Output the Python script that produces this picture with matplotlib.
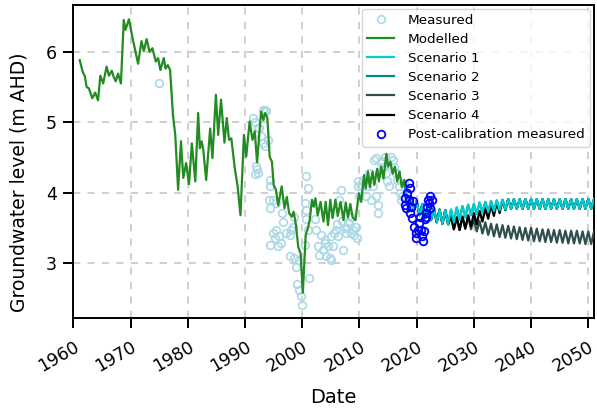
import numpy as np
import matplotlib
matplotlib.use("Agg")
import matplotlib.pyplot as plt

# ---- Modelled groundwater level (decimal year, m AHD) ----
modelled_year = [
    1961.1, 1961.6, 1962.0, 1962.3, 1962.7, 1963.3, 1963.8, 1964.3, 1964.7, 1965.2,
    1965.8, 1966.2, 1966.7, 1967.0, 1967.4, 1967.8, 1968.3, 1968.8, 1969.1, 1969.7,
    1970.4, 1971.3, 1971.9, 1972.3, 1972.8, 1973.3, 1973.8, 1974.4, 1974.8, 1975.2,
    1975.8, 1976.1, 1976.5, 1976.9, 1977.4, 1977.8, 1978.3, 1978.8, 1979.2, 1979.7,
    1980.2, 1980.7, 1981.3, 1981.8, 1982.1, 1982.4, 1982.7, 1983.2, 1983.9, 1984.3,
    1984.9, 1985.3, 1985.8, 1986.4, 1986.8, 1987.2, 1987.6, 1988.2, 1988.7, 1989.2,
    1989.8, 1990.2, 1990.8, 1991.3, 1991.7, 1992.1, 1992.8, 1993.2, 1993.5, 1993.9,
    1994.3, 1994.7, 1995.0, 1995.4, 1995.8, 1996.4, 1996.9, 1997.3, 1997.7, 1998.2,
    1998.5, 1998.9, 1999.3, 1999.7, 2000.1, 2000.6, 2001.0, 2001.3, 2001.7, 2002.0,
    2002.3, 2002.7, 2003.2, 2003.7, 2004.1, 2004.5, 2004.9, 2005.3, 2005.8, 2006.2,
    2006.7, 2007.2, 2007.6, 2008.0, 2008.4, 2008.8, 2009.3, 2009.9, 2010.3, 2010.8,
    2011.1, 2011.5, 2011.8, 2012.3, 2012.6, 2013.1, 2013.4, 2013.8, 2014.2, 2014.7,
    2015.0, 2015.4, 2015.8, 2016.2, 2016.6, 2017.0, 2017.4, 2017.8, 2018.0,
]
modelled_level = [
    5.88, 5.72, 5.65, 5.50, 5.48, 5.34, 5.42, 5.31, 5.66, 5.55,
    5.79, 5.66, 5.73, 5.65, 5.58, 5.69, 5.55, 6.45, 6.31, 6.46,
    6.17, 5.83, 6.15, 6.01, 6.18, 6.00, 6.05, 5.86, 5.91, 5.74,
    5.91, 5.76, 5.81, 5.74, 5.10, 4.82, 4.04, 4.73, 4.21, 4.42,
    4.12, 4.70, 4.16, 5.13, 4.63, 4.73, 4.61, 4.18, 4.91, 4.49,
    5.39, 4.82, 5.32, 4.71, 5.06, 4.75, 4.77, 4.35, 4.09, 3.68,
    4.82, 4.51, 5.01, 4.75, 4.87, 4.43, 5.15, 5.03, 5.13, 5.06,
    4.51, 4.44, 4.11, 4.04, 3.82, 4.09, 3.78, 3.94, 3.71, 3.66,
    3.73, 3.54, 3.23, 3.14, 2.58, 3.40, 3.50, 3.61, 3.90, 3.80,
    3.92, 3.68, 3.87, 3.59, 3.87, 3.54, 3.90, 3.64, 3.90, 3.67,
    3.87, 3.61, 3.86, 3.65, 3.84, 3.65, 3.61, 3.99, 3.87, 4.25,
    4.06, 4.30, 4.08, 4.30, 4.11, 4.34, 4.16, 4.37, 4.20, 4.55,
    4.37, 4.44, 4.27, 4.37, 4.16, 4.30, 4.08, 4.18, 4.05,
]

# ---- Measured levels used for calibration ----
measured_year = [
    1974.9, 1991.4, 1991.7, 1992.3, 1992.5, 1992.8, 1993.1, 1993.4, 1993.7, 1993.1,
    1993.4, 1994.0, 1991.9, 1992.1, 1992.2, 1991.8, 1994.3, 1994.4, 1994.2, 1994.4,
    1994.9, 1995.4, 1996.5, 1996.7, 1994.9, 1995.2, 1995.4, 1996.0, 1994.3, 1995.7,
    1996.3, 1997.2, 1997.8, 1998.1, 1998.4, 1998.6, 1997.8, 1998.6, 1998.9, 1999.1,
    1999.4, 1999.8, 2000.0, 2001.2, 2000.7, 2001.0, 2000.4, 2000.6, 2000.7, 2001.0,
    2000.4, 1999.5, 2002.2, 2002.4, 2002.7, 2003.0, 2003.6, 2003.9, 2004.2, 2004.5,
    2004.8, 2005.1, 2005.4, 2005.6, 2005.9, 2006.2, 2006.5, 2006.8, 2007.1, 2007.4,
    2007.6, 2007.9, 2008.2, 2008.5, 2008.8, 2009.1, 2009.4, 2009.6, 2008.5, 2008.0,
    2009.7, 2009.8, 2010.0, 2010.3, 2011.2, 2011.4, 2012.0, 2012.3, 2012.9, 2013.2,
    2013.2, 2013.5, 2012.6, 2012.9, 2013.8, 2014.1, 2014.4, 2014.6, 2014.9, 2015.2,
    2015.5, 2015.8, 2016.1, 2016.4, 2016.6, 2016.9, 2017.2, 2017.5, 2018.1, 2017.8,
    2011.7, 2010.6, 2003.3, 2004.0, 2005.0, 2006.0, 2007.0, 2015.0, 2014.0, 2017.0,
]
measured_level = [
    5.55, 5.06, 5.01, 4.92, 4.92, 4.80, 5.18, 5.17, 5.16, 4.71,
    4.66, 4.75, 4.38, 4.33, 4.28, 4.26, 4.18, 4.09, 3.90, 3.78,
    3.90, 3.85, 3.71, 3.59, 3.43, 3.36, 3.47, 3.38, 3.26, 3.24,
    3.29, 3.43, 3.40, 3.47, 3.52, 3.66, 3.10, 3.07, 2.95, 2.70,
    2.62, 2.53, 2.41, 2.79, 4.23, 4.06, 3.85, 3.76, 3.62, 3.47,
    3.26, 3.05, 3.62, 3.47, 3.24, 3.12, 3.19, 3.28, 3.10, 3.24,
    3.07, 3.05, 3.24, 3.43, 3.47, 3.38, 3.90, 4.04, 3.19, 3.50,
    3.43, 3.50, 3.57, 3.43, 3.47, 3.40, 3.52, 3.36, 3.66, 3.59,
    4.09, 4.16, 3.95, 4.09, 3.95, 4.09, 3.90, 4.09, 3.95, 3.83,
    3.71, 4.28, 4.47, 4.49, 4.42, 4.37, 4.51, 4.28, 4.16, 4.09,
    4.51, 4.47, 4.37, 4.28, 4.18, 4.09, 3.90, 3.95, 3.99, 4.14,
    4.28, 4.18, 3.40, 3.33, 3.38, 3.55, 3.60, 4.40, 4.45, 4.00,
]

# ---- Measured levels after the calibration period ----
postcal_year = [
    2018.7, 2018.8, 2018.3, 2018.0, 2017.9, 2018.1, 2018.6, 2018.9, 2019.2, 2019.5,
    2019.8, 2019.9, 2020.3, 2020.4, 2020.6, 2020.8, 2020.9, 2021.1, 2021.3, 2021.4,
    2021.6, 2021.8, 2022.0, 2022.3, 2022.6, 2022.1, 2022.4, 2021.6, 2019.0, 2019.3,
]
postcal_level = [
    4.14, 4.07, 4.00, 3.93, 3.83, 3.78, 3.90, 3.71, 3.64, 3.52,
    3.43, 3.36, 3.47, 3.57, 3.66, 3.47, 3.38, 3.31, 3.45, 3.62,
    3.71, 3.80, 3.90, 3.95, 3.90, 3.85, 3.78, 3.66, 3.80, 3.88,
]

# ---- Scenario projections, half-yearly from 2018.0 to 2051.0 ----
scenario_year = np.arange(2018.0, 2051.01, 0.5)

scenario1 = [
    4.05, 3.80, 3.95, 3.74, 3.88, 3.68, 3.84, 3.64, 3.80, 3.61,
    3.78, 3.58, 3.76, 3.56, 3.75, 3.55, 3.76, 3.58, 3.79, 3.62,
    3.81, 3.65, 3.83, 3.68, 3.84, 3.70, 3.86, 3.72, 3.87, 3.73,
    3.88, 3.74, 3.89, 3.75, 3.90, 3.76, 3.91, 3.77, 3.91, 3.77,
    3.91, 3.77, 3.91, 3.77, 3.91, 3.77, 3.91, 3.77, 3.91, 3.77,
    3.91, 3.77, 3.91, 3.77, 3.91, 3.77, 3.91, 3.77, 3.91, 3.77,
    3.91, 3.77, 3.91, 3.77, 3.91, 3.77, 3.91,
]
scenario2 = [
    4.05, 3.80, 3.95, 3.74, 3.88, 3.68, 3.84, 3.64, 3.80, 3.61,
    3.78, 3.58, 3.76, 3.56, 3.75, 3.55, 3.76, 3.58, 3.79, 3.62,
    3.81, 3.65, 3.83, 3.68, 3.84, 3.70, 3.86, 3.72, 3.87, 3.73,
    3.88, 3.74, 3.89, 3.75, 3.90, 3.76, 3.91, 3.77, 3.91, 3.77,
    3.91, 3.77, 3.91, 3.77, 3.91, 3.77, 3.91, 3.77, 3.91, 3.77,
    3.91, 3.77, 3.91, 3.77, 3.91, 3.77, 3.91, 3.77, 3.91, 3.77,
    3.91, 3.77, 3.91, 3.77, 3.91, 3.77, 3.91,
]
scenario3 = [
    4.05, 3.80, 3.95, 3.74, 3.88, 3.68, 3.84, 3.64, 3.80, 3.61,
    3.78, 3.58, 3.76, 3.56, 3.75, 3.55, 3.66, 3.48, 3.65, 3.47,
    3.66, 3.49, 3.66, 3.48, 3.62, 3.45, 3.60, 3.42, 3.58, 3.40,
    3.56, 3.38, 3.55, 3.37, 3.54, 3.36, 3.53, 3.35, 3.52, 3.34,
    3.51, 3.33, 3.50, 3.32, 3.50, 3.31, 3.49, 3.31, 3.48, 3.30,
    3.48, 3.30, 3.47, 3.29, 3.47, 3.29, 3.46, 3.28, 3.46, 3.28,
    3.46, 3.28, 3.45, 3.27, 3.45, 3.27, 3.45,
]
scenario4 = [
    4.05, 3.80, 3.95, 3.74, 3.88, 3.68, 3.84, 3.64, 3.80, 3.61,
    3.78, 3.58, 3.76, 3.56, 3.75, 3.55, 3.66, 3.48, 3.65, 3.47,
    3.66, 3.49, 3.68, 3.52, 3.71, 3.55, 3.74, 3.59, 3.78, 3.63,
    3.82, 3.67, 3.86, 3.71, 3.89, 3.75, 3.91, 3.77, 3.91, 3.77,
    3.91, 3.77, 3.91, 3.77, 3.91, 3.77, 3.91, 3.77, 3.91, 3.77,
    3.91, 3.77, 3.91, 3.77, 3.91, 3.77, 3.91, 3.77, 3.91, 3.77,
    3.91, 3.77, 3.91, 3.77, 3.91, 3.77, 3.91,
]

year_ticks = [1960, 1970, 1980, 1990, 2000, 2010, 2020, 2030, 2040, 2050]
level_ticks = [3, 4, 5, 6]

fig = plt.figure(figsize=(5.97, 4.11), dpi=100)
ax = fig.add_axes([0.123, 0.226, 0.872, 0.763])

ax.grid(True, color="#cccccc", linestyle=(0, (4, 4)), linewidth=1.3, zorder=0)
ax.set_axisbelow(True)

h_meas, = ax.plot(measured_year, measured_level, linestyle="none", marker="o",
                  markersize=5.5, markerfacecolor="none", markeredgecolor="#add8e6",
                  markeredgewidth=1.2, label="Measured", zorder=2)
h_mod, = ax.plot(modelled_year, modelled_level, color="#228b22", linewidth=1.6,
                 label="Modelled", zorder=3)
h_s2, = ax.plot(scenario_year, scenario2, color="#008b8b", linewidth=1.6,
                label="Scenario 2", zorder=3)
h_s3, = ax.plot(scenario_year, scenario3, color="#2f4f4f", linewidth=1.6,
                label="Scenario 3", zorder=3.1)
h_s4, = ax.plot(scenario_year, scenario4, color="black", linewidth=1.6,
                label="Scenario 4", zorder=3.2)
h_s1, = ax.plot(scenario_year, scenario1, color="#00ced1", linewidth=1.6,
                label="Scenario 1", zorder=3.3)
h_post, = ax.plot(postcal_year, postcal_level, linestyle="none", marker="o",
                  markersize=5.5, markerfacecolor="none", markeredgecolor="#0000ff",
                  markeredgewidth=1.3, label="Post-calibration measured", zorder=4)

ax.set_xlim(1960, 2051)
ax.set_ylim(2.22, 6.67)
ax.set_xticks(year_ticks)
ax.set_xticklabels([str(y) for y in year_ticks], rotation=30, ha="right",
                   rotation_mode="anchor")
ax.set_yticks(level_ticks)

ax.tick_params(axis="both", direction="out", length=7, width=1.4,
               labelsize=12.5)
ax.tick_params(axis="x", pad=7)
ax.tick_params(axis="y", pad=5)
for spine in ax.spines.values():
    spine.set_linewidth(1.4)
    spine.set_color("black")

ax.set_xlabel("Date", fontsize=14, labelpad=9)
ax.set_ylabel("Groundwater level (m AHD)", fontsize=13.5)
ax.yaxis.set_label_coords(-0.086, 0.434)

ax.legend(handles=[h_meas, h_mod, h_s1, h_s2, h_s3, h_s4, h_post],
          loc="upper right", fontsize=9.7, frameon=True, framealpha=0.8,
          borderaxespad=0.3, handlelength=2.0, handletextpad=1.0,
          labelspacing=0.45, borderpad=0.4)

fig.savefig("out.png", dpi=100)
